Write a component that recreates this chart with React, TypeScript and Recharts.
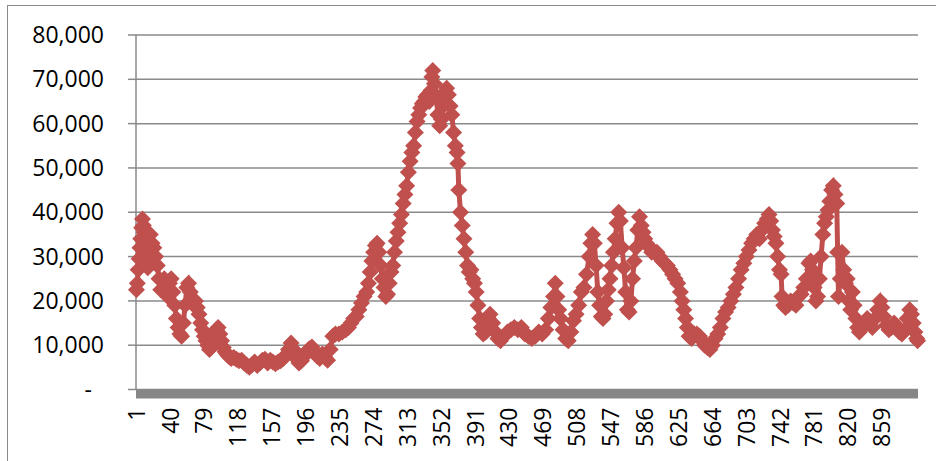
import React from "react";
import {
  LineChart,
  Line,
  XAxis,
  YAxis,
  CartesianGrid,
  ReferenceArea,
} from "recharts";

// category index (1..900) and value
const days: number[] = [
  1, 2, 3, 4, 5, 6, 7, 8, 9, 10, 11, 12, 13, 14, 15, 16, 17, 19, 21, 23, 25, 27, 29, 31, 33, 35, 37, 39,
  41, 43, 45, 47, 49, 51, 53, 55, 57, 59, 61, 63, 65, 67, 69, 71, 73, 75, 77, 79, 81, 83, 85, 87, 89,
  91, 93, 95, 97, 99, 101, 103, 105, 107, 110, 113, 116, 119, 122, 125, 128, 131, 134, 137, 140, 143,
  146, 149, 152, 155, 158, 161, 164, 167, 170, 173, 176, 179, 182, 185, 188, 191, 194, 197, 200, 203,
  206, 209, 212, 215, 218, 221, 224, 227, 230, 234, 238, 242, 245, 248, 251, 254, 257, 260, 263, 266,
  268, 270, 272, 274, 276, 278, 280, 282, 284, 286, 288, 290, 292, 294, 296, 298, 300, 302, 304, 306,
  308, 310, 312, 314, 316, 318, 320, 322, 324, 326, 328, 330, 332, 334, 336, 338, 340, 341, 342, 344,
  346, 348, 350, 352, 354, 356, 358, 360, 362, 364, 366, 368, 370, 371, 372, 374, 376, 378, 380, 382,
  384, 386, 388, 390, 392, 394, 396, 398, 400, 403, 406, 408, 411, 414, 417, 420, 424, 428, 432, 436,
  440, 444, 448, 452, 456, 460, 464, 468, 472, 475, 478, 481, 483, 485, 487, 489, 492, 495, 498, 501,
  504, 507, 510, 513, 516, 519, 522, 524, 526, 528, 530, 532, 534, 536, 538, 540, 542, 544, 546, 548,
  550, 552, 554, 556, 558, 560, 562, 564, 566, 568, 570, 572, 574, 576, 578, 580, 582, 584, 586, 588,
  590, 592, 594, 597, 600, 603, 606, 609, 612, 615, 618, 621, 624, 627, 629, 631, 633, 635, 637, 640,
  643, 646, 649, 652, 655, 658, 661, 664, 667, 670, 673, 676, 679, 682, 685, 688, 691, 694, 697, 700,
  703, 706, 709, 712, 715, 718, 721, 724, 727, 729, 731, 733, 735, 737, 739, 741, 743, 744, 746, 748,
  751, 754, 757, 760, 763, 766, 769, 772, 775, 777, 779, 781, 783, 785, 787, 789, 791, 793, 795, 797,
  799, 801, 803, 805, 807, 808, 809, 811, 813, 815, 817, 819, 821, 823, 825, 827, 829, 831, 833, 836,
  839, 842, 845, 848, 851, 854, 857, 859, 861, 864, 867, 870, 873, 876, 879, 882, 885, 888, 891, 893,
  895, 897, 899, 900,
];

const values: number[] = [
  22500, 24000, 27000, 29500, 32000, 34000, 36500, 38500, 37000, 35500, 33500, 31000, 29000, 27500,
  29500, 33000, 35000, 33000, 32000, 30000, 28000, 25000, 22500, 24500, 25000, 23000, 21000, 24000,
  25000, 22000, 19000, 16000, 14000, 12500, 12000, 15000, 19000, 23000, 24000, 22000, 20000, 19000,
  20000, 18500, 17000, 15000, 13500, 12000, 11000, 10000, 9000, 9500, 11000, 12500, 13500, 14000,
  12500, 11000, 9500, 8500, 8000, 7500, 7000, 7200, 6800, 6500, 6600, 6000, 5500, 5000, 5600, 6200,
  5400, 6000, 6600, 6800, 6000, 6600, 6200, 5800, 6200, 6500, 7000, 7800, 9000, 10500, 9000, 7000,
  6000, 6500, 7500, 8500, 9200, 9600, 8500, 7500, 7000, 8000, 7300, 6600, 9000, 12000, 12500, 12500,
  13000, 13500, 14000, 15000, 16000, 16500, 18000, 19500, 21000, 22000, 24000, 26500, 29000, 31000,
  32500, 33000, 31000, 28000, 25000, 23000, 21000, 21500, 24000, 26500, 28000, 31000, 33500, 35500,
  37500, 39500, 42000, 44000, 46000, 49000, 51500, 53500, 55000, 58000, 60500, 62000, 63500, 64500,
  65000, 66000, 66500, 65000, 67500, 70500, 72000, 69000, 66000, 62000, 59500, 61000, 64000, 67000,
  68000, 66500, 64000, 62000, 58000, 55000, 53500, 51000, 45000, 40000, 37000, 34000, 31000, 28000,
  26500, 27000, 25000, 24000, 22000, 19000, 16000, 14000, 12500, 13000, 16000, 17000, 15000, 13000,
  11500, 11000, 12000, 13000, 13500, 14000, 13500, 14000, 12500, 12000, 11500, 12000, 13000, 12500,
  13500, 16000, 18500, 21000, 24000, 21000, 18000, 16000, 13500, 11500, 11000, 13000, 15500, 17000,
  19000, 22000, 23000, 26000, 30000, 33000, 35000, 33000, 28000, 22000, 19000, 16500, 16000, 17000,
  20000, 22500, 25000, 28000, 31000, 34000, 37500, 40000, 38000, 32000, 27500, 22000, 18000, 17500,
  20000, 25000, 29000, 32000, 36000, 39000, 37000, 35500, 34000, 33000, 32500, 32000, 31000, 31000,
  31000, 30000, 29000, 28500, 28000, 27000, 26000, 25000, 24000, 22000, 20000, 18000, 16000, 14000,
  12000, 11500, 12500, 12500, 12000, 11000, 10000, 9500, 9000, 10000, 11500, 12500, 14000, 16000,
  17500, 18500, 20000, 21500, 23000, 25000, 27000, 28500, 30000, 31500, 33000, 34000, 35000, 34000,
  36000, 37500, 38500, 39500, 38000, 36000, 34500, 33000, 30000, 27000, 26000, 21000, 19000, 18500,
  19000, 20000, 19500, 19000, 21000, 21500, 23000, 25000, 28500, 29000, 27000, 23000, 20000, 21000,
  25000, 30000, 35000, 37500, 39000, 40500, 42500, 45000, 46000, 44000, 42000, 31000, 21000, 25000,
  31000, 27000, 24000, 25000, 20000, 18000, 22000, 19000, 16000, 14000, 13000, 14000, 15000, 16000,
  15000, 14000, 16000, 18000, 20000, 18500, 16500, 14500, 13500, 14000, 15000, 14000, 13000, 12500,
  13500, 16000, 18000, 17000, 15000, 13000, 11500, 11000,
];

const yTicks: number[] = [0, 10000, 20000, 30000, 40000, 50000, 60000, 70000, 80000];
const xTicks: number[] = [
  1, 40, 79, 118, 157, 196, 235, 274, 313, 352, 391, 430, 469, 508, 547, 586, 625, 664, 703, 742,
  781, 820, 859,
];

const data = days.map((d, i) => ({ day: d, value: values[i] }));

const RED = "#C0504D";
const GRAY = "#8a8a8a";
const FONT = "'Open Sans', sans-serif";

const Diamond = (props: any) => {
  const { cx, cy, index } = props;
  if (cx == null || cy == null) return <g key={index} />;
  const r = 8.5;
  return (
    <polygon
      key={index}
      points={`${cx},${cy - r} ${cx + r},${cy} ${cx},${cy + r} ${cx - r},${cy}`}
      fill={RED}
    />
  );
};

const YTick = (props: any) => {
  const { x, y, payload } = props;
  const v = payload.value;
  return (
    <text
      x={v === 0 ? x - 12 : x}
      y={y}
      dy="0.35em"
      textAnchor="end"
      fill="#000"
      fontSize={23}
      fontFamily={FONT}
    >
      {v === 0 ? "-" : v.toLocaleString("en-US")}
    </text>
  );
};

const XTick = (props: any) => {
  const { x, y, payload } = props;
  return (
    <text
      x={x}
      y={y}
      dy="0.36em"
      transform={`rotate(-90, ${x}, ${y})`}
      textAnchor="end"
      fill="#000"
      fontSize={23}
      fontFamily={FONT}
    >
      {payload.value}
    </text>
  );
};

export default function App() {
  return (
    <div
      style={{
        position: "absolute",
        left: 0,
        top: 0,
        width: 936,
        height: 461,
        overflow: "hidden",
        background: "#fff",
      }}
    >
      <div
        style={{
          position: "absolute",
          left: 7,
          top: 5,
          width: 950,
          height: 480,
          border: `1.5px solid ${GRAY}`,
        }}
      />
      <div style={{ position: "absolute", left: 0, top: 0 }}>
        <LineChart
          width={936}
          height={461}
          data={data}
          margin={{ top: 35, right: 18, left: 8, bottom: 11.5 }}
        >
          <CartesianGrid vertical={false} stroke={GRAY} strokeWidth={1.5} />
          <XAxis
            dataKey="day"
            type="number"
            domain={[0.5, 900.5]}
            ticks={xTicks}
            interval={0}
            axisLine={false}
            tickLine={false}
            tickSize={0}
            tickMargin={18}
            height={60}
            tick={<XTick />}
          />
          <YAxis
            domain={[0, 80000]}
            ticks={yTicks}
            interval={0}
            width={128}
            axisLine={{ stroke: GRAY, strokeWidth: 1.5 }}
            tickLine={{ stroke: GRAY, strokeWidth: 1.5 }}
            tickSize={8}
            tickMargin={24}
            tick={<YTick />}
          />
          <ReferenceArea
            x1={0.5}
            x2={900.5}
            y1={-2030}
            y2={0}
            ifOverflow="visible"
            fill="#868686"
            fillOpacity={1}
            stroke="none"
          />
          <Line
            type="linear"
            dataKey="value"
            stroke={RED}
            strokeWidth={5}
            dot={Diamond}
            activeDot={false}
            isAnimationActive={false}
          />
        </LineChart>
      </div>
    </div>
  );
}
